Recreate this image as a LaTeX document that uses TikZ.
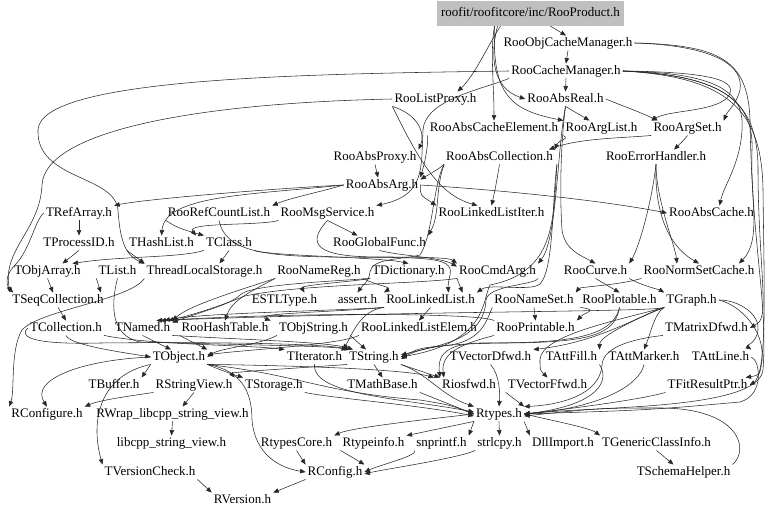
\documentclass[tikz,border=0pt]{standalone}
\usepackage{fontspec}
\setmainfont{Liberation Serif}
\usetikzlibrary{arrows.meta}
\definecolor{boxgray}{RGB}{191,191,191}
\definecolor{edgecol}{RGB}{40,40,40}
\begin{document}
\begin{tikzpicture}[x=1bp,y=-1bp,
  lbl/.style={inner xsep=2bp,inner ysep=1.5bp,text height=9bp,text depth=2.5bp,font=\rmfamily\fontsize{13bp}{15bp}\selectfont},
  e/.style={draw=edgecol,line width=0.55bp,-{Triangle[length=5.5bp,width=4.5bp]}}]
\useasboundingbox (0,0) rectangle (768,515);
% ---------------- nodes ----------------
\node[lbl,fill=boxgray,minimum width=187bp,minimum height=25bp] (prod) at (530.5,13.5) {roofit/roofitcore/inc/RooProduct.h};
\node[lbl] (objcm) at (568,43) {RooObjCacheManager.h};
\node[lbl] (cm) at (566,71) {RooCacheManager.h};
\node[lbl] (listproxy) at (435.5,99) {RooListProxy.h};
\node[lbl] (absreal) at (565.5,99) {RooAbsReal.h};
\node[lbl] (ace) at (494,128) {RooAbsCacheElement.h};
\node[lbl] (arglist) at (601.5,128) {RooArgList.h};
\node[lbl] (argset) at (687.5,128) {RooArgSet.h};
\node[lbl] (absproxy) at (375,157) {RooAbsProxy.h};
\node[lbl] (abscoll) at (499.5,157) {RooAbsCollection.h};
\node[lbl] (errh) at (656,157) {RooErrorHandler.h};
\node[lbl] (absarg) at (382,185) {RooAbsArg.h};
\node[lbl] (trefarray) at (79,213) {TRefArray.h};
\node[lbl] (refcount) at (219,213) {RooRefCountList.h};
\node[lbl] (msgsvc) at (327.5,213) {RooMsgService.h};
\node[lbl] (llistiter) at (491.5,213) {RooLinkedListIter.h};
\node[lbl] (abscache) at (711.5,213) {RooAbsCache.h};
\node[lbl] (tprocessid) at (79,243) {TProcessID.h};
\node[lbl] (thashlist) at (161.5,243) {THashList.h};
\node[lbl] (tclass) at (229,243) {TClass.h};
\node[lbl] (globfunc) at (379.5,243) {RooGlobalFunc.h};
\node[lbl] (tobjarray) at (47.5,271) {TObjArray.h};
\node[lbl] (tlist) at (117.5,271) {TList.h};
\node[lbl] (tls) at (204.5,271) {ThreadLocalStorage.h};
\node[lbl] (namereg) at (319,271) {RooNameReg.h};
\node[lbl] (tdict) at (408.5,271) {TDictionary.h};
\node[lbl] (cmdarg) at (497.5,271) {RooCmdArg.h};
\node[lbl] (curve) at (595.5,271) {RooCurve.h};
\node[lbl] (normset) at (699,271) {RooNormSetCache.h};
\node[lbl] (tseqcoll) at (58,300) {TSeqCollection.h};
\node[lbl] (estl) at (284.5,300) {ESTLType.h};
\node[lbl] (assert) at (357.5,300) {assert.h};
\node[lbl] (llist) at (430.5,300) {RooLinkedList.h};
\node[lbl] (nameset) at (534,300) {RooNameSet.h};
\node[lbl] (plotable) at (619.5,300) {RooPlotable.h};
\node[lbl] (tgraph) at (691.5,300) {TGraph.h};
\node[lbl] (tcoll) at (66,328) {TCollection.h};
\node[lbl] (tnamed) at (142.5,328) {TNamed.h};
\node[lbl] (hashtab) at (225,328) {RooHashTable.h};
\node[lbl] (tobjstr) at (313.5,328) {TObjString.h};
\node[lbl] (llelem) at (419,328) {RooLinkedListElem.h};
\node[lbl] (printable) at (535.5,328) {RooPrintable.h};
\node[lbl] (matrixd) at (706.5,328) {TMatrixDfwd.h};
\node[lbl] (tobject) at (179,357) {TObject.h};
\node[lbl] (titer) at (314.5,357) {TIterator.h};
\node[lbl] (tstring) at (374,357) {TString.h};
\node[lbl] (tvecd) at (490.5,357) {TVectorDfwd.h};
\node[lbl] (tattfill) at (571.5,357) {TAttFill.h};
\node[lbl] (tattmarker) at (644,357) {TAttMarker.h};
\node[lbl] (tattline) at (720.5,357) {TAttLine.h};
\node[lbl] (tbuffer) at (114,385) {TBuffer.h};
\node[lbl] (rstrview) at (194,385) {RStringView.h};
\node[lbl] (tstorage) at (274,385) {TStorage.h};
\node[lbl] (tmathbase) at (382.5,385) {TMathBase.h};
\node[lbl] (riosfwd) at (469,385) {Riosfwd.h};
\node[lbl] (tvecf) at (547.5,385) {TVectorFfwd.h};
\node[lbl] (fitres) at (707.5,385) {TFitResultPtr.h};
\node[lbl] (rconfigure) at (47,414) {RConfigure.h};
\node[lbl] (rwrap) at (172.5,414) {RWrap\_libcpp\_string\_view.h};
\node[lbl] (rtypes) at (499,414) {Rtypes.h};
\node[lbl] (libcpp) at (171.5,443) {libcpp\_string\_view.h};
\node[lbl] (rtypescore) at (296.5,443) {RtypesCore.h};
\node[lbl] (rtypeinfo) at (373.5,443) {Rtypeinfo.h};
\node[lbl] (snprintf) at (441.5,443) {snprintf.h};
\node[lbl] (strlcpy) at (499.5,443) {strlcpy.h};
\node[lbl] (dllimport) at (563,443) {DllImport.h};
\node[lbl] (tgeneric) at (656.5,443) {TGenericClassInfo.h};
\node[lbl] (tversion) at (150,472) {TVersionCheck.h};
\node[lbl] (rconfig) at (335,472) {RConfig.h};
\node[lbl] (tschema) at (683.5,472) {TSchemaHelper.h};
\node[lbl] (rversion) at (242.5,500) {RVersion.h};
% ---------------- edges: top ----------------
\draw[e] ([xshift=20bp]prod.south) -- ([xshift=-2bp]objcm.north);
\draw[e] ([xshift=-30bp]prod.south) .. controls (488,45) and (475,75) .. ([xshift=22bp]listproxy.north);
\draw[e] ([xshift=-33bp]prod.south) .. controls (490,55) and (492,88) .. (absreal.west);
\draw[e] ([xshift=-36bp]prod.south) .. controls (490,50) and (494,85) .. (ace.north);
\draw[e] ([xshift=-36bp]prod.south) .. controls (492,95) and (510,110) .. (arglist.north west);
\draw[e] (objcm.south) -- (cm.north);
\draw[e] (objcm.east) .. controls (700,45) and (745,60) .. (740,90) .. controls (736,105) and (728,110) .. (argset.north east);
\draw[e] (objcm.east) .. controls (720,45) and (748,60) .. (750,120) .. controls (752,250) and (768,300) .. (763,370) .. controls (758,410) and (600,406) .. (rtypes.east);
\draw[e] (cm.south) -- (absreal.north);
\draw[e] (cm.east) .. controls (710,72) and (742,80) .. (727,98) .. controls (712,112) and (670,110) .. (argset.north west);
\draw[e] (cm.east) .. controls (715,73) and (745,90) .. (742,130) .. controls (740,165) and (724,185) .. ([xshift=8bp]abscache.north);
\draw[e] (cm.east) .. controls (720,75) and (754,100) .. (752,150) .. controls (750,200) and (762,240) .. ([xshift=40bp]normset.north);
\draw[e] (cm.east) .. controls (725,76) and (758,100) .. (758,170) .. controls (758,240) and (766,300) .. (762,315) .. controls (760,322) .. (matrixd.east);
\draw[e] (cm.east) .. controls (728,77) and (762,110) .. (763,190) .. controls (764,280) and (767,360) .. (757,378) .. controls (755,382) .. (fitres.east);
\draw[e] (cm.south west) .. controls (480,90) and (425,100) .. (423,130) .. controls (421,170) and (425,195) .. (msgsvc.north east);
\draw[e] (cm.west) .. controls (300,74) and (40,78) .. (38,130) .. controls (36,180) and (115,175) .. (118,210) .. controls (120,240) and (125,255) .. (tls.north west);
\draw[e] (listproxy.south west) .. controls (420,115) and (425,135) .. (absproxy.north east);
\draw[e] (listproxy.west) .. controls (200,103) and (45,130) .. (42,185) .. controls (40,230) and (2,250) .. (tseqcoll.north west);
\draw[e] (listproxy.south west) .. controls (421,165) and (440,195) .. ([xshift=-14bp]llistiter.north);
\draw[e] (absreal.east) .. controls (620,105) and (640,112) .. ([xshift=-30bp]argset.north);
\draw[e] (absreal.south) -- ([xshift=-12bp]arglist.north);
\draw[e] (ace.south west) .. controls (428,150) and (424,165) .. (absarg.north east);
\draw[e] (arglist.south west) .. controls (570,140) and (558,140) .. (abscoll.north east);
\draw[e] (argset.south west) .. controls (625,138) and (580,138) .. ([xshift=-6bp]abscoll.north east);
\draw[e] (argset.south) .. controls (684,140) .. ([xshift=18bp]errh.north);
\draw[e] (absreal.south) .. controls (560,150) and (560,200) .. (562,230) .. controls (565,250) and (580,255) .. (curve.north);
\draw[e] (absreal.south) .. controls (557,150) and (557,240) .. (cmdarg.north east);
\draw[e] (errh.south) .. controls (655,190) and (658,240) .. (normset.north);
\draw[e] (errh.south) .. controls (652,200) and (640,245) .. (curve.north east);
\draw[e] (errh.south) .. controls (656,200) and (675,245) .. ([xshift=-22bp]normset.north);
% ---------------- edges: middle ----------------
\draw[e] (absproxy.south) -- ([xshift=-4bp]absarg.north);
\draw[e] (abscoll.south west) .. controls (440,168) .. ([yshift=-2bp]absarg.north east);
\draw[e] (abscoll.south) .. controls (497,180) and (494,195) .. (llistiter.north);
\draw[e] (abscoll.south west) .. controls (435,190) and (440,215) .. (globfunc.north east);
\draw[e] ([xshift=2bp]abscoll.south east) .. controls (552,200) and (554,270) .. (540,284) .. controls (530,292) and (490,283) .. (llist.north east);
\draw[e] ([xshift=2bp]abscoll.south east) .. controls (553,220) and (556,272) .. (490,285) .. controls (482,300) and (488,342) .. (tstring.east);
\draw[e] (abscoll.south west) .. controls (433,185) and (433,235) .. (420,255) .. controls (400,260) and (372,258) .. (370,272) .. controls (369,282) and (362,286) .. (assert.north);
\draw[e] (absarg.west) .. controls (250,190) and (140,200) .. (trefarray.north east);
\draw[e] (absarg.west) .. controls (320,192) and (290,198) .. (refcount.north east);
\draw[e] (absarg.east) .. controls (500,190) and (600,200) .. (abscache.west);
\draw[e] (absarg.east) .. controls (420,195) .. (llistiter.north west);
\draw[e] (absarg.west) .. controls (250,195) and (165,195) .. (thashlist.north);
\draw[e] (refcount.south) .. controls (225,250) and (260,256) .. (330,257) .. controls (420,258) and (455,255) .. (450,275) .. controls (448,285) .. ([xshift=18bp]llist.north);
\draw[e] (msgsvc.south) -- ([xshift=-22bp]globfunc.north);
\draw[e] (msgsvc.south west) .. controls (260,226) and (185,222) .. (thashlist.north east);
\draw[e] (refcount.south west) .. controls (178,228) .. (tclass.north west);
\draw[e] (msgsvc.south) .. controls (300,250) and (330,257) .. (380,257) .. controls (430,257) and (450,258) .. (cmdarg.north west);
\draw[e] (globfunc.south) .. controls (400,256) and (440,257) .. ([yshift=-3bp]cmdarg.north west);
\draw[e] (trefarray.south) -- (tprocessid.north);
\draw[e] (trefarray.west) .. controls (35,220) and (30,250) .. (15,265) .. controls (5,275) and (6,285) .. ([xshift=3bp]tseqcoll.north west);
\draw[e] (tprocessid.south) -- ([xshift=15bp]tobjarray.north);
\draw[e] (thashlist.south west) -- ([xshift=6bp]tlist.north east);
\draw[e] (tclass.south west) .. controls (180,258) and (120,256) .. ([xshift=25bp]tobjarray.north);
\draw[e] (tclass.south) -- ([xshift=15bp]tls.north);
\draw[e] (tclass.south east) .. controls (270,256) and (380,257) .. (tdict.north);
\draw[e] (tobjarray.south) -- ([xshift=-5bp]tseqcoll.north);
\draw[e] (tlist.south west) -- ([xshift=-5bp]tseqcoll.north east);
\draw[e] (tlist.south) .. controls (112,300) and (108,335) .. (140,342) .. controls (250,345) and (330,346) .. (tstring.north west);
\draw[e] (tls.south west) .. controls (130,300) and (40,310) .. (22,330) .. controls (10,350) and (15,390) .. (rconfigure.north west);
\draw[e] (namereg.south west) .. controls (240,290) and (190,305) .. (tnamed.north east);
\draw[e] (namereg.south west) .. controls (250,292) and (232,300) .. (hashtab.north);
\draw[e] (namereg.south east) .. controls (375,285) and (392,287) .. (llist.north west);
\draw[e] (tdict.south west) .. controls (320,282) and (250,285) .. (240,295) .. controls (230,305) and (200,312) .. ([yshift=-2bp]tnamed.north east);
\draw[e] (tdict.south west) .. controls (350,282) and (300,285) .. ([xshift=20bp]estl.north);
\draw[e] (cmdarg.south west) .. controls (420,284) and (300,284) .. (245,296) .. controls (222,305) and (200,313) .. ([xshift=-4bp]tnamed.north east);
\draw[e] (cmdarg.south west) -- ([xshift=32bp]llist.north);
\draw[e] (cmdarg.south east) .. controls (535,285) and (488,285) .. (486,300) .. controls (484,340) and (440,345) .. ([yshift=2bp]tstring.east);
\draw[e] (curve.south east) .. controls (640,285) and (660,290) .. (tgraph.north west);
\draw[e] (curve.south) -- (plotable.north);
\draw[e] (normset.south west) .. controls (620,285) and (580,287) .. (nameset.north east);
\draw[e] (llist.south) -- (llelem.north);
\draw[e] (llist.south west) .. controls (340,312) and (250,313) .. (hashtab.north east);
\draw[e] (llist.south west) .. controls (330,311) and (200,313) .. ([xshift=-8bp]tnamed.north east);
\draw[e] (llist.south west) .. controls (360,310) and (352,335) .. ([xshift=-4bp]tstring.north west);
\draw[e] (nameset.south) -- (printable.north);
\draw[e] (nameset.south west) .. controls (488,315) and (485,340) .. (450,345) .. controls (420,348) .. (tstring.east);
\draw[e] (plotable.south west) .. controls (600,310) and (585,312) .. (printable.north east);
\draw[e] (plotable.south) .. controls (615,335) and (590,343) .. (500,343) .. controls (440,344) and (420,348) .. ([yshift=-2bp]tstring.east);
\draw[e] (plotable.south) .. controls (612,340) and (560,343) .. (480,343) .. controls (440,344) and (438,360) .. (riosfwd.north west);
\draw[e] (printable.south west) .. controls (470,342) and (440,350) .. ([xshift=4bp]riosfwd.north west);
\draw[e] (printable.north west) .. controls (480,313) and (300,312) .. ([xshift=-12bp]tnamed.north east);
\draw[e] (tgraph.south west) .. controls (660,312) and (400,311) .. ([xshift=-16bp]tnamed.north east);
\draw[e] (tgraph.east) .. controls (740,300) and (760,315) .. (758,330) .. controls (756,345) and (745,345) .. (tattline.north east);
\draw[e] (tgraph.south west) .. controls (655,312) and (650,335) .. (tattmarker.north);
\draw[e] (tgraph.south west) .. controls (645,315) and (600,335) .. (tattfill.north east);
\draw[e] (tgraph.south west) .. controls (640,315) and (600,342) .. (tvecd.north east);
\draw[e] (tgraph.south west) .. controls (620,320) and (540,335) .. (540,360) .. controls (540,370) .. (tvecf.north);
\draw[e] (tgraph.east) .. controls (740,305) and (765,330) .. (762,360) .. controls (760,375) .. ([xshift=-4bp]fitres.north east);
\draw[e] (matrixd.south west) .. controls (640,338) and (603,345) .. (602,365) .. controls (600,395) and (560,405) .. (rtypes.north east);
% ---------------- edges: lower ----------------
\draw[e] (tseqcoll.south) -- (tcoll.north);
\draw[e] (tcoll.south) .. controls (70,345) and (120,352) .. (tobject.west);
\draw[e] (tcoll.south east) .. controls (150,345) and (250,345) .. (titer.north west);
\draw[e] (tcoll.west) .. controls (20,335) and (25,345) .. (100,343) .. controls (200,342) and (320,343) .. ([xshift=3bp]tstring.north west);
\draw[e] (tnamed.south) -- ([xshift=-8bp]tobject.north);
\draw[e] (tnamed.south east) .. controls (250,340) and (330,342) .. ([xshift=6bp]tstring.north west);
\draw[e] (hashtab.south west) -- (tobject.north east);
\draw[e] (tobjstr.south west) .. controls (260,345) and (220,348) .. (tobject.east);
\draw[e] (tobjstr.south east) -- ([xshift=-8bp]tstring.north);
\draw[e] (llelem.south west) .. controls (340,345) and (240,350) .. ([yshift=2bp]tobject.east);
\draw[e] (tobject.south east) .. controls (220,370) and (235,375) .. (tstorage.north west);
\draw[e] (tobject.south west) -- (tbuffer.north east);
\draw[e] (tobject.south east) .. controls (260,365) and (400,368) .. ([xshift=-6bp]riosfwd.north west);
\draw[e] (tobject.south east) .. controls (300,375) and (320,392) .. (420,400) .. controls (450,405) .. (rtypes.west);
\draw[e] (tobject.west) .. controls (80,360) and (30,380) .. (rconfigure.north);
\draw[e] (tobject.south west) .. controls (100,375) and (90,420) .. (tversion.north west);
\draw[e] (tobject.south east) .. controls (240,370) and (252,390) .. (252,420) .. controls (255,455) and (280,468) .. (rconfig.west);
\draw[e] (titer.south) .. controls (312,395) and (400,398) .. ([yshift=2bp]rtypes.west);
\draw[e] (tstring.south) -- (tmathbase.north);
\draw[e] (tstring.south west) .. controls (300,368) and (230,372) .. (rstrview.north east);
\draw[e] (tstring.south east) -- (riosfwd.north west);
\draw[e] (tstring.south east) .. controls (430,375) and (440,395) .. (rtypes.north west);
\draw[e] (tvecd.south) .. controls (500,375) and (500,395) .. (rtypes.north);
\draw[e] (tvecf.south west) -- (rtypes.north east);
\draw[e] (tattfill.south east) .. controls (610,380) and (600,405) .. (rtypes.east);
\draw[e] (tattmarker.south) .. controls (640,385) and (600,408) .. (rtypes.east);
\draw[e] (tattline.east) .. controls (760,360) and (765,395) .. (740,402) .. controls (650,410) .. (rtypes.east);
\draw[e] (fitres.south west) .. controls (640,400) and (560,410) .. (rtypes.east);
\draw[e] (tstorage.south east) .. controls (330,398) and (420,405) .. ([yshift=-2bp]rtypes.west);
\draw[e] (tmathbase.south east) -- (rtypes.west);
\draw[e] (rstrview.south west) .. controls (130,396) and (100,400) .. (rconfigure.north east);
\draw[e] (rstrview.south) -- ([xshift=10bp]rwrap.north);
\draw[e] (rwrap.south) -- (libcpp.north);
\draw[e] (rtypes.west) .. controls (420,420) and (350,428) .. (rtypescore.north east);
\draw[e] (rtypes.south west) -- (rtypeinfo.north east);
\draw[e] (rtypes.south west) -- (snprintf.north east);
\draw[e] (rtypes.south) -- (strlcpy.north);
\draw[e] (rtypes.south east) -- (dllimport.north west);
\draw[e] (rtypes.east) .. controls (550,420) and (590,428) .. (tgeneric.north west);
\draw[e] (tgeneric.south) -- ([xshift=-10bp]tschema.north);
\draw[e] (tschema.north east) .. controls (750,450) and (740,408) .. (660,408) .. controls (600,408) .. ([yshift=-2bp]rtypes.east);
\draw[e] (rtypescore.south) -- (rconfig.north west);
\draw[e] (rtypeinfo.south west) -- (rconfig.north east);
\draw[e] (snprintf.south west) .. controls (420,455) and (380,465) .. (rconfig.east);
\draw[e] (strlcpy.south west) .. controls (460,458) and (380,470) .. ([yshift=-2bp]rconfig.east);
\draw[e] (tversion.south east) -- (rversion.north west);
\draw[e] (rconfig.south west) -- (rversion.north east);
\end{tikzpicture}
\end{document}
